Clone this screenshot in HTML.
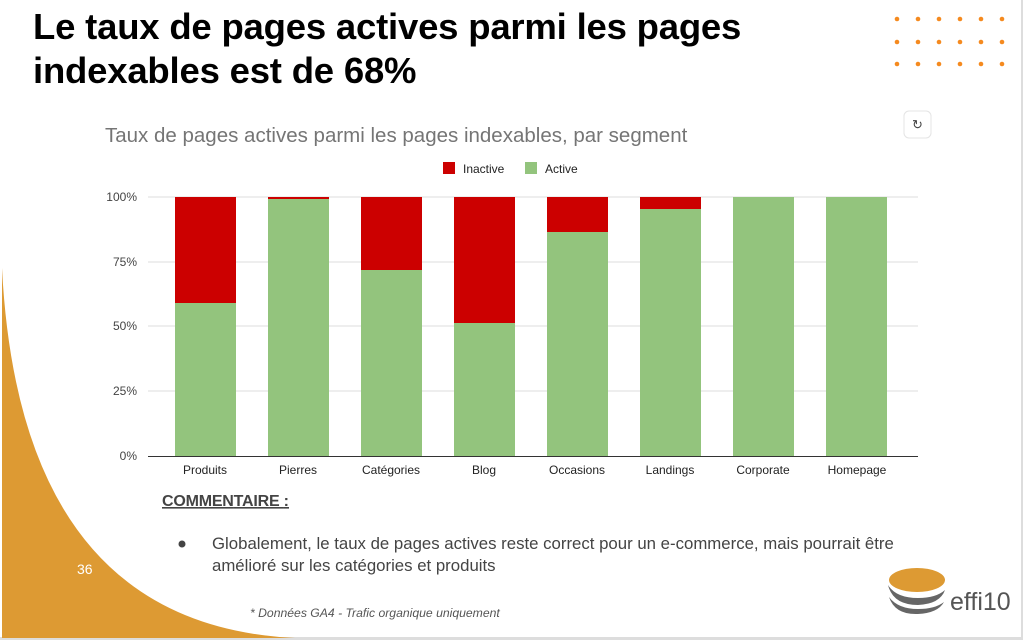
<!DOCTYPE html>
<html><head><meta charset="utf-8"><style>
body{margin:0;width:1024px;height:641px;overflow:hidden;background:#fff;font-family:"Liberation Sans",Arial,sans-serif;position:relative}
.frame{position:absolute;left:0;top:0;width:1021px;height:637px;border-right:2px solid #ddd;border-bottom:3px solid #ddd}
h1{position:absolute;left:33px;top:5px;margin:0;font-size:36.5px;line-height:44px;font-weight:bold;color:#000;letter-spacing:-0.2px}
</style></head><body>
<div class="frame"></div>
<svg width="1024" height="641" style="position:absolute;left:0;top:0">
<path d="M2,268 Q20,625 295,638 L2,638 Z" fill="#DD9A33"/>
<g fill="#F58A1F">
<circle cx="897" cy="19" r="2.3"/><circle cx="918" cy="19" r="2.3"/><circle cx="939" cy="19" r="2.3"/><circle cx="960" cy="19" r="2.3"/><circle cx="981" cy="19" r="2.3"/><circle cx="1002" cy="19" r="2.3"/>
<circle cx="897" cy="42" r="2.3"/><circle cx="918" cy="42" r="2.3"/><circle cx="939" cy="42" r="2.3"/><circle cx="960" cy="42" r="2.3"/><circle cx="981" cy="42" r="2.3"/><circle cx="1002" cy="42" r="2.3"/>
<circle cx="897" cy="64" r="2.3"/><circle cx="918" cy="64" r="2.3"/><circle cx="939" cy="64" r="2.3"/><circle cx="960" cy="64" r="2.3"/><circle cx="981" cy="64" r="2.3"/><circle cx="1002" cy="64" r="2.3"/>
</g>
<rect x="904" y="111" width="27" height="27" rx="5" fill="#fff" stroke="#e4e4e4"/>
<text x="917.5" y="129" font-size="13" text-anchor="middle" fill="#444">↻</text>
<text x="105" y="142" font-size="20.5" fill="#757575">Taux de pages actives parmi les pages indexables, par segment</text>
<rect x="443" y="162" width="12" height="12" fill="#CC0000"/><text x="463" y="173" font-size="12" fill="#222">Inactive</text>
<rect x="525" y="162" width="12" height="12" fill="#93C47D"/><text x="545" y="173" font-size="12" fill="#222">Active</text>
<g stroke="#ddd" stroke-width="1">
<line x1="148" y1="197" x2="918" y2="197"/><line x1="148" y1="262" x2="918" y2="262"/><line x1="148" y1="326" x2="918" y2="326"/><line x1="148" y1="391" x2="918" y2="391"/>
</g>
<g font-size="12" fill="#444" text-anchor="end">
<text x="137" y="201">100%</text><text x="137" y="266">75%</text><text x="137" y="330">50%</text><text x="137" y="395">25%</text><text x="137" y="460">0%</text>
</g>
<g>
<rect x="175" y="197" width="61" height="259" fill="#CC0000"/><rect x="175" y="303" width="61" height="153" fill="#93C47D"/>
<rect x="268" y="197" width="61" height="259" fill="#CC0000"/><rect x="268" y="199" width="61" height="257" fill="#93C47D"/>
<rect x="361" y="197" width="61" height="259" fill="#CC0000"/><rect x="361" y="270" width="61" height="186" fill="#93C47D"/>
<rect x="454" y="197" width="61" height="259" fill="#CC0000"/><rect x="454" y="323" width="61" height="133" fill="#93C47D"/>
<rect x="547" y="197" width="61" height="259" fill="#CC0000"/><rect x="547" y="232" width="61" height="224" fill="#93C47D"/>
<rect x="640" y="197" width="61" height="259" fill="#CC0000"/><rect x="640" y="209" width="61" height="247" fill="#93C47D"/>
<rect x="733" y="197" width="61" height="259" fill="#93C47D"/>
<rect x="826" y="197" width="61" height="259" fill="#93C47D"/>
</g>
<line x1="148" y1="456.5" x2="918" y2="456.5" stroke="#333" stroke-width="1"/>
<g font-size="12" fill="#222" text-anchor="middle">
<text x="205" y="474">Produits</text><text x="298" y="474">Pierres</text><text x="391" y="474">Catégories</text><text x="484" y="474">Blog</text><text x="577" y="474">Occasions</text><text x="670" y="474">Landings</text><text x="763" y="474">Corporate</text><text x="857" y="474">Homepage</text>
</g>
<text x="162" y="506" font-size="16" font-weight="bold" fill="#444" text-decoration="underline" textLength="127">COMMENTAIRE :</text>
<circle cx="182" cy="544" r="3.5" fill="#444"/>
<text x="212" y="549" font-size="16.8" fill="#444">Globalement, le taux de pages actives reste correct pour un e-commerce, mais pourrait être</text>
<text x="212" y="571" font-size="16.8" fill="#444">amélioré sur les catégories et produits</text>
<text x="77" y="574" font-size="14" fill="#fff">36</text>
<text x="250" y="617" font-size="12.2" font-style="italic" fill="#555">* Données GA4 - Trafic organique uniquement</text>
<ellipse cx="917" cy="580" rx="28" ry="12" fill="#DD9A33"/>
<path d="M888,585 Q893,605 918,605 Q940,604 945,590 Q936,598 918,598 Q896,598 888,585Z" fill="#666"/>
<path d="M889,597 Q895,615 918,614 Q938,613 944,602 Q935,609 918,609 Q898,609 889,597Z" fill="#666"/>
<text x="950" y="610" font-size="25" fill="#555">effi10</text>
</svg>
<h1>Le taux de pages actives parmi les pages<br>indexables est de 68%</h1>
</body></html>
